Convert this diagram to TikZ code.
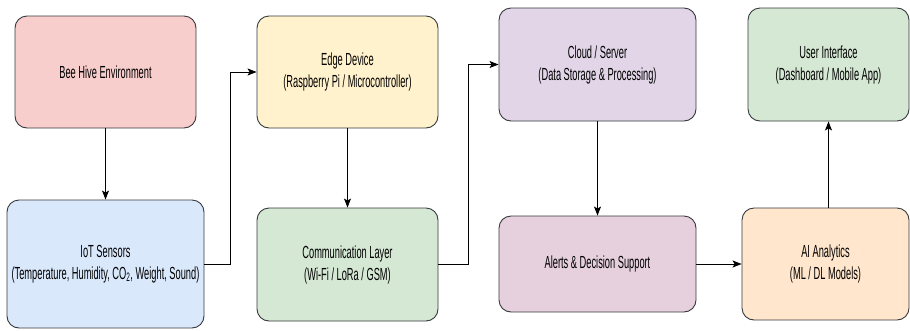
\documentclass[tikz,border=0pt]{standalone}
\usepackage{fontspec}
\setmainfont[FakeStretch=0.53]{Liberation Sans}
\usepackage{tikz}
\usetikzlibrary{arrows.meta, positioning}

\definecolor{hivered}{HTML}{F8CECC}
\definecolor{sensorblue}{HTML}{DAE8FC}
\definecolor{edgeyellow}{HTML}{FFF2CC}
\definecolor{commgreen}{HTML}{D5E8D4}
\definecolor{cloudpurple}{HTML}{E1D5E7}
\definecolor{alertpink}{HTML}{E6D0DE}
\definecolor{aiorange}{HTML}{FFE6CC}
\definecolor{boxline}{HTML}{36393D}

\begin{document}
\begin{tikzpicture}[x=1pt, y=-1pt,
    blk/.style={draw=boxline, line width=0.9pt, rounded corners=12pt, align=center,
        inner sep=0pt, font=\fontsize{17.5}{22}\selectfont},
    arr/.style={line width=0.9pt, -{Stealth[length=9pt, width=7pt, inset=2pt]}}]

            % 画布
            \useasboundingbox (0,0) rectangle (910,330);

            % 第一列
            \node[blk, fill=hivered, minimum width=181pt, minimum height=112pt] (hive) at (105.5,72) {Bee Hive Environment};
            \node[blk, fill=sensorblue, minimum width=197pt, minimum height=128pt] (sensors) at (105.5,264) {IoT Sensors\\(Temperature, Humidity, CO\textsubscript{2}, Weight, Sound)};

            % 第二列
            \node[blk, fill=edgeyellow, minimum width=181pt, minimum height=112pt] (edge) at (347.5,72) {Edge Device\\(Raspberry Pi / Microcontroller)};
            \node[blk, fill=commgreen, minimum width=181pt, minimum height=113pt] (comm) at (347.5,264.5) {Communication Layer\\(Wi-Fi / LoRa / GSM)};

            % 第三列
            \node[blk, fill=cloudpurple, minimum width=197pt, minimum height=113pt] (cloud) at (597.5,64.5) {Cloud / Server\\(Data Storage \& Processing)};
            \node[blk, fill=alertpink, minimum width=197pt, minimum height=96pt] (alerts) at (597.5,264) {Alerts \& Decision Support};

            % 第四列
            \node[blk, fill=commgreen, minimum width=161pt, minimum height=113pt] (ui) at (828.5,64.5) {User Interface\\(Dashboard / Mobile App)};
            \node[blk, fill=aiorange, minimum width=167pt, minimum height=112pt] (ai) at (825.5,264) {AI Analytics\\(ML / DL Models)};

            % 连线
            \draw[arr] (hive) -- (sensors);
            \draw[arr] (sensors.east) -| (230,72) -- (edge.west);
            \draw[arr] (edge) -- (comm);
            \draw[arr] (comm.east) -| (468,64.5) -- (cloud.west);
            \draw[arr] (cloud) -- (alerts);
            \draw[arr] (alerts) -- (ai);
            \draw[arr] (ai.north -| ui.south) -- (ui.south);

\end{tikzpicture}
\end{document}
